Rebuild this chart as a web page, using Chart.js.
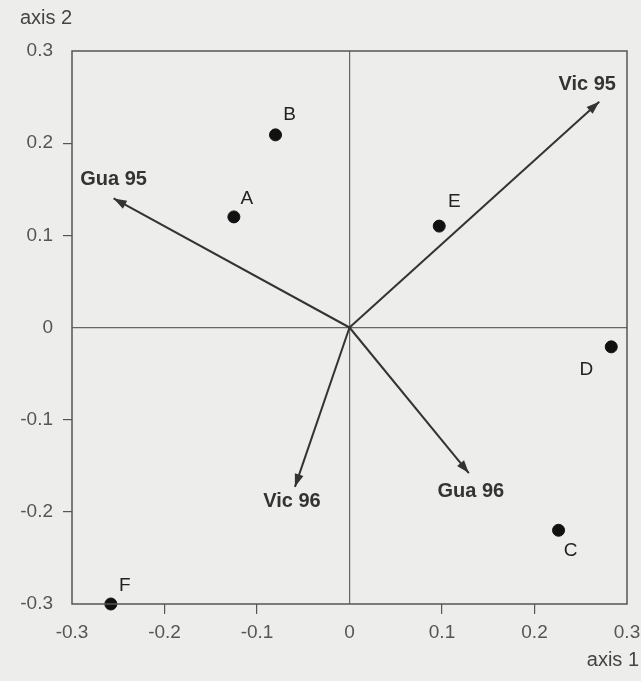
<!DOCTYPE html>
<html>
<head>
<meta charset="utf-8">
<script src="https://cdn.jsdelivr.net/npm/chart.js@4"></script>
<style>
  html, body { margin: 0; padding: 0; background: #ededeb; }
  canvas { display: block; }
</style>
</head>
<body>
<canvas id="biplot" width="641" height="681"></canvas>
<script>
// Sites (scores)
const siteLabels = ["A", "B", "C", "D", "E", "F"];
const siteX = [-0.125, -0.08, 0.226, 0.283, 0.097, -0.258];
const siteY = [0.12, 0.209, -0.22, -0.021, 0.11, -0.3];

// Variables (arrows from origin)
const vectorLabels = ["Vic 95", "Gua 95", "Vic 96", "Gua 96"];
const vectorX = [0.27, -0.255, -0.059, 0.129];
const vectorY = [0.245, 0.14, -0.173, -0.158];

// Axis ticks
const axisTicks = [-0.3, -0.2, -0.1, 0, 0.1, 0.2, 0.3];

const ink = "#333";
const axisInk = "#555";

// where each text sits relative to its mark (pixels)
const siteLabelOffset = {
    A: [13, -18], B: [14, -20], C: [12, 20], D: [-25, 23], E: [15, -24], F: [14, -18]
};
const vectorLabelOffset = {
    "Vic 95": [-12, -17], "Gua 95": [0, -19], "Vic 96": [-3, 15], "Gua 96": [2, 18]
};

function isEdgeOrZero(v) {
    return Math.abs(v) < 1e-9 || Math.abs(Math.abs(v) - 0.3) < 1e-9;
}

// frame, arrowheads and text
const decorations = {
    id: "decorations",
    beforeDraw(chart) {
        const ctx = chart.ctx;
        ctx.save();
        ctx.fillStyle = "#ededeb";
        ctx.fillRect(0, 0, chart.width, chart.height);
        ctx.restore();
    },
    afterDatasetsDraw(chart) {
        const ctx = chart.ctx;
        const xs = chart.scales.x;
        const ys = chart.scales.y;
        const area = chart.chartArea;

        ctx.save();
        // box around plot
        ctx.strokeStyle = axisInk;
        ctx.lineWidth = 1.5;
        ctx.strokeRect(area.left, area.top, area.right - area.left, area.bottom - area.top);

        // arrowheads
        vectorLabels.forEach((name, i) => {
            const x0 = xs.getPixelForValue(0), y0 = ys.getPixelForValue(0);
            const x1 = xs.getPixelForValue(vectorX[i]), y1 = ys.getPixelForValue(vectorY[i]);
            const ang = Math.atan2(y1 - y0, x1 - x0);
            const len = 13, half = 4.5;
            ctx.fillStyle = ink;
            ctx.beginPath();
            ctx.moveTo(x1, y1);
            ctx.lineTo(x1 - len * Math.cos(ang) + half * Math.sin(ang), y1 - len * Math.sin(ang) - half * Math.cos(ang));
            ctx.lineTo(x1 - len * Math.cos(ang) - half * Math.sin(ang), y1 - len * Math.sin(ang) + half * Math.cos(ang));
            ctx.closePath();
            ctx.fill();

            const off = vectorLabelOffset[name];
            ctx.font = "bold 20px 'Liberation Sans', Arial, sans-serif";
            ctx.textAlign = "center";
            ctx.textBaseline = "middle";
            ctx.fillText(name, x1 + off[0], y1 + off[1]);
        });

        // site labels
        ctx.fillStyle = "#222";
        ctx.font = "19px 'Liberation Sans', Arial, sans-serif";
        ctx.textAlign = "center";
        ctx.textBaseline = "middle";
        siteLabels.forEach((name, i) => {
            const off = siteLabelOffset[name];
            ctx.fillText(name, xs.getPixelForValue(siteX[i]) + off[0], ys.getPixelForValue(siteY[i]) + off[1]);
        });

        // axis names
        ctx.fillStyle = "#444";
        ctx.font = "20px 'Liberation Sans', Arial, sans-serif";
        ctx.textAlign = "left";
        ctx.fillText("axis 2", 20, 18);
        ctx.textAlign = "right";
        ctx.fillText("axis 1", 639, 660);
        ctx.restore();
    }
};

const vectorDatasets = vectorLabels.map((name, i) => ({
    type: "line",
    label: name,
    data: [{ x: 0, y: 0 }, { x: vectorX[i], y: vectorY[i] }],
    borderColor: ink,
    borderWidth: 2,
    pointRadius: 0,
    fill: false,
    order: 2
}));

const siteDataset = {
    type: "scatter",
    label: "sites",
    data: siteX.map((x, i) => ({ x: x, y: siteY[i] })),
    backgroundColor: "#111",
    borderColor: "#111",
    pointRadius: 6,
    clip: false,
    order: 1
};

function axisOptions(isX) {
    return {
        type: "linear",
        min: -0.3,
        max: 0.3,
        afterBuildTicks: (scale) => {
            scale.ticks = axisTicks.map(v => ({ value: v }));
        },
        afterFit: (scale) => {
            if (isX) {
                scale.height = 77;
                scale.paddingLeft = 0;
                scale.paddingRight = 0;
            } else {
                scale.width = 72;
                scale.paddingTop = 0;
                scale.paddingBottom = 0;
            }
        },
        border: { display: false },
        grid: {
            color: (c) => (c.tick && Math.abs(c.tick.value) < 1e-9) ? "#666" : "rgba(0,0,0,0)",
            lineWidth: 1.2,
            drawTicks: true,
            tickLength: isX ? 10 : 9,
            tickColor: (c) => (c.tick && isEdgeOrZero(c.tick.value)) ? "rgba(0,0,0,0)" : axisInk,
            tickWidth: 1.2
        },
        ticks: {
            color: axisInk,
            padding: isX ? 7 : 10,
            font: { family: "'Liberation Sans', Arial, sans-serif", size: 19 },
            callback: (v) => Math.abs(v) < 1e-9 ? "0" : Number(v).toFixed(1)
        }
    };
}

new Chart(document.getElementById("biplot").getContext("2d"), {
    type: "scatter",
    data: { datasets: [siteDataset, ...vectorDatasets] },
    options: {
        responsive: false,
        animation: false,
        layout: { padding: { top: 51, right: 14, left: 0, bottom: 0 } },
        plugins: {
            legend: { display: false },
            tooltip: { enabled: false }
        },
        scales: {
            x: axisOptions(true),
            y: axisOptions(false)
        }
    },
    plugins: [decorations]
});
</script>
</body>
</html>
